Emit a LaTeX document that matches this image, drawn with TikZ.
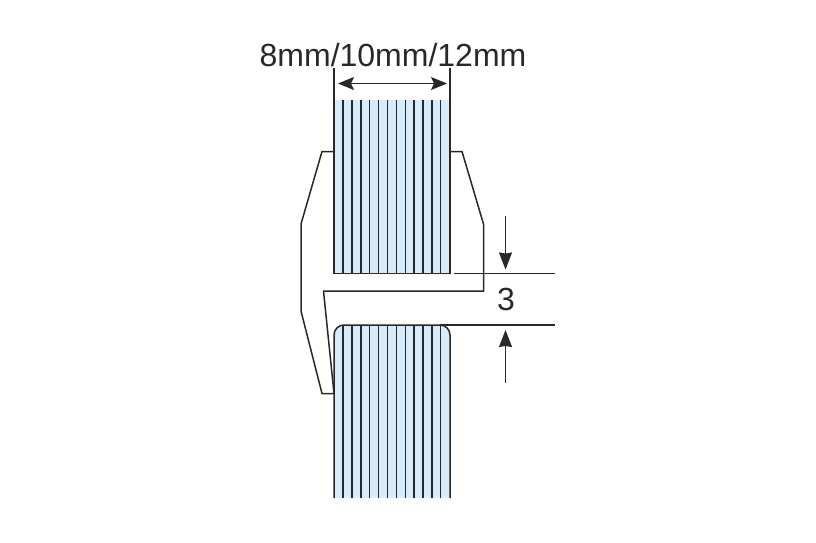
\documentclass[tikz,border=0pt]{standalone}
\usepackage{fontspec}
\setmainfont{Liberation Sans}
\usetikzlibrary{arrows.meta}
\definecolor{glass}{HTML}{D7ECFA}
\definecolor{ink}{HTML}{2B2728}
\tikzset{
	edge/.style={ink,line width=1.5pt},
	stripe/.style={ink,line width=1.4pt},
	dim/.style={ink,line width=1.5pt},
	profile/.style={ink,line width=1.5pt,line join=round},
	dimarrow/.style={ink,line width=1.2pt,-{Stealth[length=17pt,width=13pt,inset=1pt]}},
	widtharrow/.style={ink,line width=1.4pt,{Stealth[length=16pt,width=13pt,inset=3pt]}-{Stealth[length=16pt,width=13pt,inset=3pt]}},
	label/.style={ink,font=\fontsize{32}{32}\selectfont,anchor=base,inner sep=0pt}
}
\begin{document}
\begin{tikzpicture}[x=1pt,y=-1pt]
	\useasboundingbox (0,0) rectangle (816,542);

	% upper and lower panes
	\fill [glass] (334,100) rectangle (450,273.5);
	\fill [glass] (334,498) {[rounded corners=10pt] -- (334,325) -- (450,325)} -- (450,498) -- cycle;
	\foreach \i in {1,...,12}
	{
		\draw [stripe] (334.3+\i*8.87,100) -- (334.3+\i*8.87,273.5);
		\draw [stripe] (334.3+\i*8.87,325) -- (334.3+\i*8.87,498);
	}
	\draw [edge] (334,67.5) -- (334,273.5) -- (450,273.5) -- (450,67.5);
	\draw [edge,rounded corners=10pt] (334,498) -- (334,325) -- (450,325) -- (450,498);

	% clip profile
	\draw [profile] (334,151.5) -- (322,151.5) -- (301,224) -- (301,311) -- (322,393.5) -- (334,393.5)
		-- (323.5,291) -- (483.5,291) -- (483.5,224) -- (462,151.5) -- (450,151.5);

	% witness lines
	\coordinate (w1) at (454,273.5);
	\coordinate (w2) at (555,273.5);
	\coordinate (w3) at (440,325);
	\coordinate (w4) at (555,325);
	\draw [dim] (w1) -- (w2);
	\draw [dim] (w3) -- (w4);

	% dimensions
	\coordinate (a1) at (505.5,215.5);
	\coordinate (a2) at (505.5,269.5);
	\coordinate (a3) at (505.5,382.5);
	\coordinate (a4) at (505.5,330);
	\coordinate (a5) at (338,83.5);
	\coordinate (a6) at (447,83.5);
	\draw [dimarrow] (a1) -- (a2);
	\draw [dimarrow] (a3) -- (a4);
	\draw [widtharrow] (a5) -- (a6);

	\node [label] (width) at (393,66) {8mm/10mm/12mm};
	\node [label] (gap) at (506,310) {3};
\end{tikzpicture}
\end{document}
